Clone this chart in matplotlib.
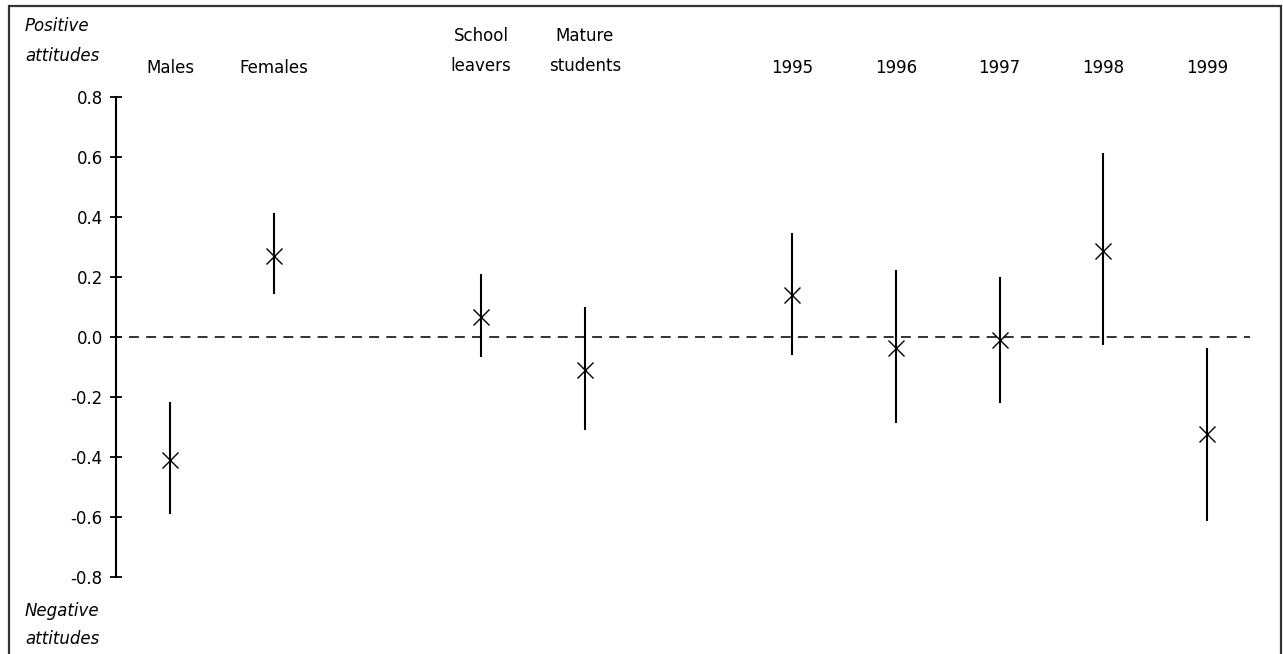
import matplotlib
matplotlib.use('Agg')
import matplotlib.pyplot as plt
import numpy as np
from matplotlib.patches import Rectangle

# attitude scores (mean and interval) per group
groups = [['Males', 'Females'],
          ['School\nleavers', 'Mature\nstudents'],
          ['1995', '1996', '1997', '1998', '1999']]
means = [-0.41, 0.27, 0.067, -0.11, 0.14, -0.037, -0.011, 0.285, -0.325]
lows = [-0.59, 0.142, -0.069, -0.311, -0.061, -0.287, -0.222, -0.026, -0.613]
highs = [-0.216, 0.413, 0.209, 0.098, 0.347, 0.222, 0.20, 0.611, -0.036]
yticks = [0.8, 0.6, 0.4, 0.2, 0.0, -0.2, -0.4, -0.6, -0.8]

plt.rcParams['font.family'] = ['DejaVu Sans']

fig = plt.figure(figsize=(12.83, 6.54), dpi=100)
W, H = 1283, 654

# axes placed in pixel terms
ax_left, ax_right = 116, 1270
ax_top, ax_bot = 96.7, 576.7
ax = fig.add_axes([ax_left / W, (H - ax_bot) / H,
                   (ax_right - ax_left) / W, (ax_bot - ax_top) / H])
ax.set_facecolor('none')

# positions: one empty slot between groups
labels = []
xs = []
slot = 0
for g in groups:
    for name in g:
        labels.append(name)
        xs.append(slot + 0.5)
        slot += 1
    slot += 1
xs = np.array(xs)

ax.set_xlim(-0.021, 11.107)
ax.set_ylim(-0.8, 0.8)

ax.hlines(0, 0.1, 10.914, colors='#222222', linewidth=1.3,
          linestyles=(0, (5.5, 4.0)))
ax.vlines(xs, lows, highs, colors='black', linewidth=1.5)
ax.plot(xs, means, linestyle='none', marker='x', color='black',
        markersize=11, markeredgewidth=1.0)

for s in ['top', 'right', 'bottom']:
    ax.spines[s].set_visible(False)
ax.spines['left'].set_bounds(-0.8, 0.8)
ax.spines['left'].set_linewidth(1.5)
ax.spines['left'].set_position(('data', -0.021))
ax.set_xticks([])
ax.set_yticks(yticks)
ax.set_yticklabels(['%.1f' % v if v >= 0 else '-%.1f' % abs(v) for v in yticks])
ax.tick_params(axis='y', direction='inout', length=9, width=1.3,
               pad=5, labelsize=12)

# category labels above plot
tr = ax.get_xaxis_transform()
for x, name in zip(xs, labels):
    if '\n' in name:
        ax.text(x, (ax_bot - 51) / (ax_bot - ax_top), name, transform=tr,
                ha='center', va='center', fontsize=12, linespacing=1.8)
    else:
        ax.text(x, (ax_bot - 68) / (ax_bot - ax_top), name, transform=tr,
                ha='center', va='center', fontsize=12)

fig.text(25 / W, (H - 41) / H, 'Positive\nattitudes', ha='left', va='center',
         fontsize=12, style='italic', linespacing=1.8)
fig.text(25 / W, (H - 625) / H, 'Negative\nattitudes', ha='left', va='center',
         fontsize=12, style='italic', linespacing=1.7)

# frame around the figure
fig.patches.append(Rectangle((9 / W, -0.05), (1281 - 9) / W, 1.05 - 6 / H,
                             transform=fig.transFigure, fill=False,
                             edgecolor='#333333', linewidth=1.6))

fig.savefig('out.png', dpi=100)
